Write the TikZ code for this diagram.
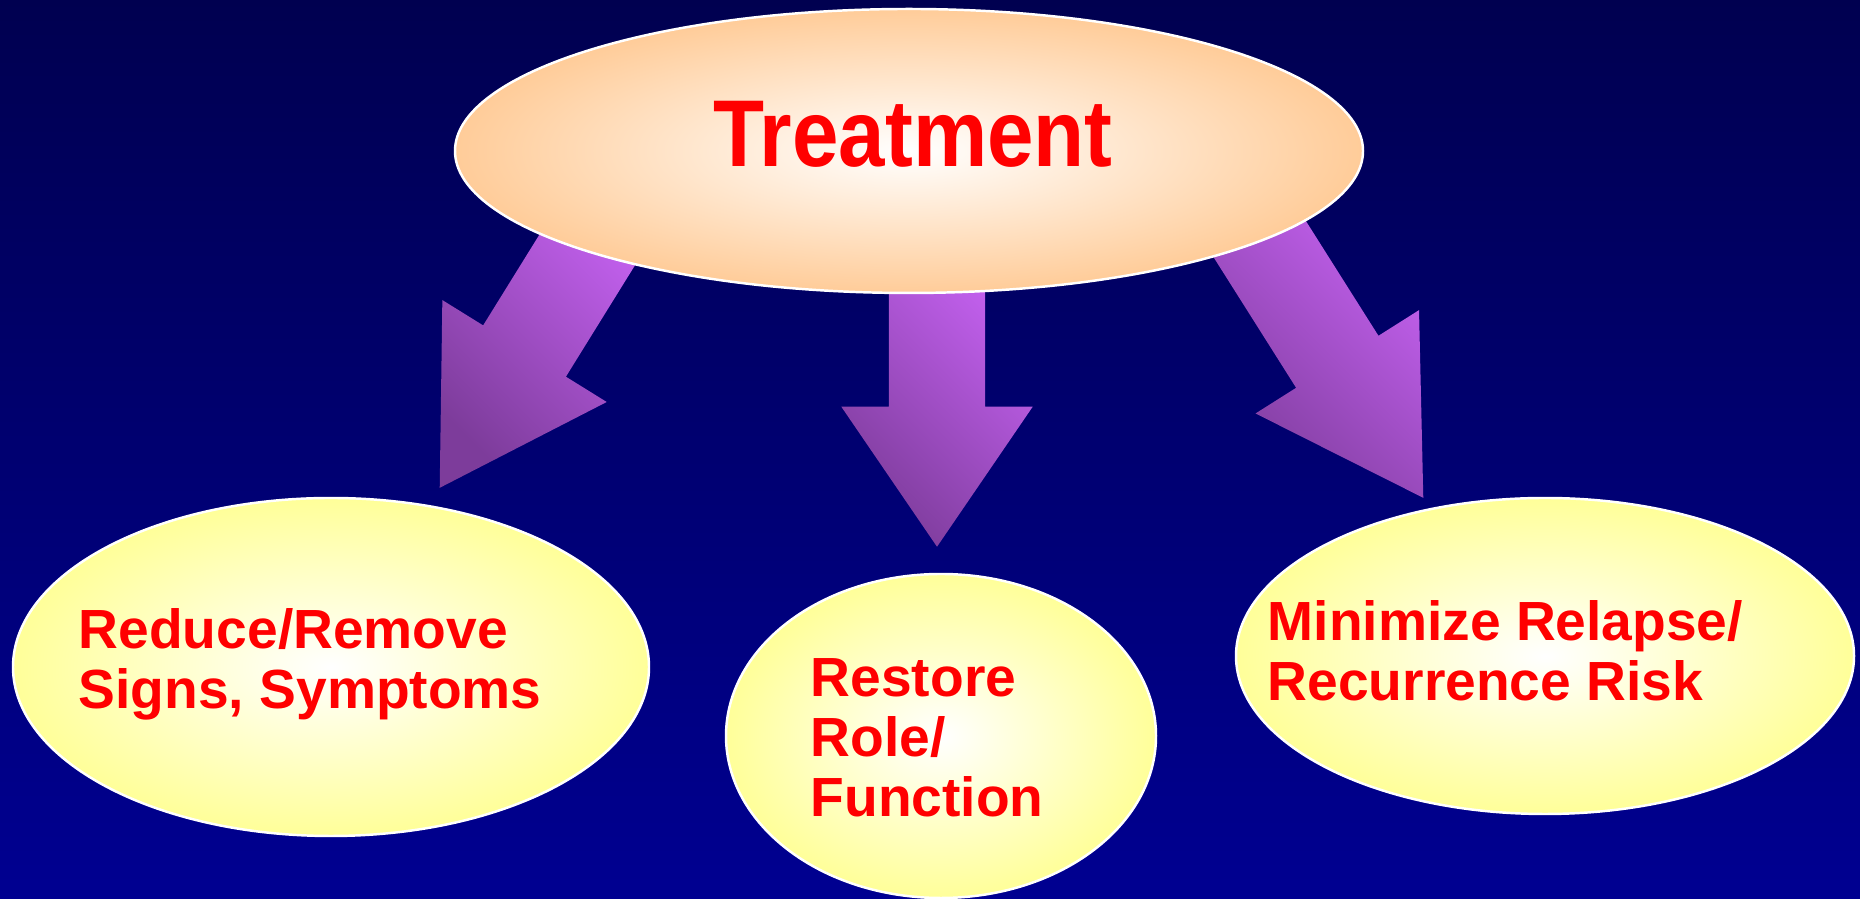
\documentclass[tikz,border=0pt]{standalone}
\usepackage{fontspec}
\setmainfont{Liberation Sans}
\usepackage{graphicx}
\usetikzlibrary{shapes.geometric, shapes.arrows, positioning}

\definecolor{bgtop}{RGB}{0,0,80}
\definecolor{bgbottom}{RGB}{0,0,145}
\definecolor{peach}{RGB}{255,204,153}
\definecolor{paleyellow}{RGB}{255,255,153}
\definecolor{arrowlight}{RGB}{198,98,242}
\definecolor{arrowdark}{RGB}{125,60,155}

\begin{document}
\begin{tikzpicture}[
        oval/.style={ellipse, draw=white, line width=0.7pt, inner sep=0pt, inner color=white},
        bigarrow/.style={single arrow, draw=none, inner xsep=0pt, inner ysep=0.48cm, top color=arrowlight, bottom color=arrowdark,
            shading angle=-45, single arrow head extend=0.48cm, single arrow tip angle=62, anchor=tip},
        goal/.style={text=red, font=\bfseries\fontsize{15.7}{17.1}\selectfont, align=left, inner sep=0pt, anchor=west}
    ]
        \shade[top color=bgtop, bottom color=bgbottom] (0,0) rectangle (18.6,8.99);
        \useasboundingbox (0,0) rectangle (18.6,8.99);

        % arrows first, the top oval hides their tails
        \node[bigarrow, minimum height=3.3cm, rotate=-121.8] (arrleft) at (4.39,4.10) {};
        \node[bigarrow, minimum height=3.0cm, rotate=-90, inner ysep=0.475cm,
            single arrow head extend=0.475cm, single arrow tip angle=68.7] (arrmid) at (9.37,3.51) {};
        \node[bigarrow, minimum height=3.4cm, rotate=-57.7] (arrright) at (14.24,4.00) {};

        \node[oval, outer color=peach, minimum width=9.08cm, minimum height=2.84cm] (treat) at (9.09,7.48) {};
        \node[oval, outer color=paleyellow, minimum width=6.36cm, minimum height=3.38cm] (reduce) at (3.31,2.32) {};
        \node[oval, outer color=paleyellow, minimum width=4.30cm, minimum height=3.24cm] (restore) at (9.41,1.63) {};
        \node[oval, outer color=paleyellow, minimum width=6.18cm, minimum height=3.16cm] (relapse) at (15.45,2.43) {};

        \node[text=red, font=\bfseries\fontsize{27}{30}\selectfont, inner sep=0pt] (treattext) at (9.13,7.65)
            {\scalebox{0.88}[1]{Treatment}};
        \node[goal] (reducetext) at (0.78,2.35) {Reduce/Remove\\Signs, Symptoms};
        \node[goal] (restoretext) at (8.10,1.615) {Restore\\Role/\\Function};
        \node[goal] (relapsetext) at (12.67,2.48) {Minimize Relapse/\\Recurrence Risk};
    \end{tikzpicture}
\end{document}
